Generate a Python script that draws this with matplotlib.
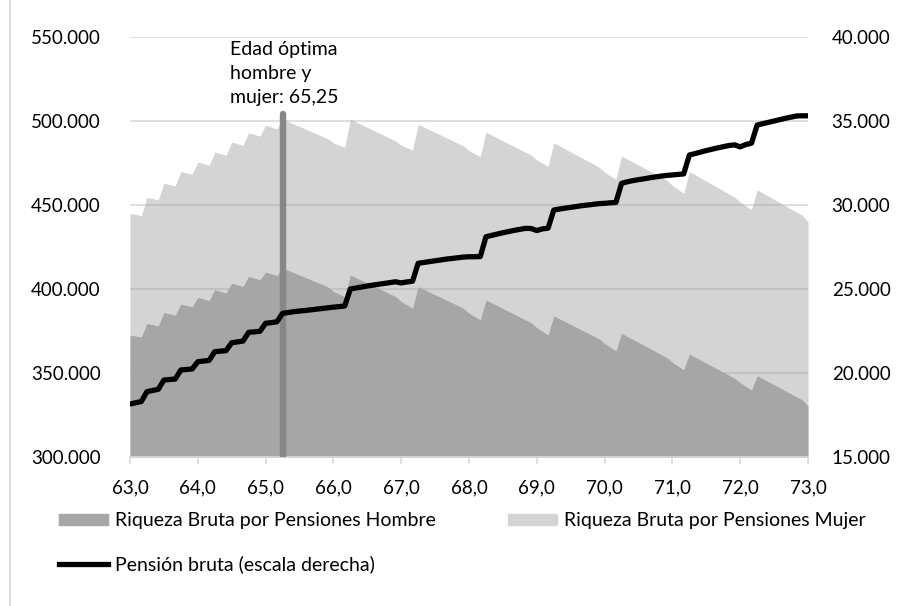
import matplotlib
matplotlib.use("Agg")
import matplotlib.pyplot as plt
import numpy as np
from matplotlib.patches import Patch
from matplotlib.lines import Line2D
from matplotlib.ticker import FuncFormatter

plt.rcParams['font.family'] = ['Lato', 'DejaVu Sans']

# edad de jubilación, mensual de 63 a 73 años
edades = np.linspace(63, 73, 121)

riqueza_mujer = [
    445000, 444400, 443600, 454500, 453800, 452900, 463000, 462200, 461300,
    470000, 469200, 468300, 475500, 474600, 473600, 481500, 480600, 479600,
    487500, 486500, 485500, 493000, 492000, 491000, 497500, 496400, 495300,
    501000, 499600, 498200, 496700, 495300, 493800, 492400, 490900, 489500, 487000, 485600, 484400,
    501000, 499400, 497800, 496200, 494600, 493000, 491400, 489800, 488200, 485600, 484100, 482700,
    498000, 496400, 494800, 493200, 491600, 490000, 488400, 486800, 485200, 482400, 480600, 478800,
    493300, 491600, 489900, 488200, 486500, 484800, 483100, 481400, 479700, 476800, 474900, 473000,
    487000, 485200, 483400, 481600, 479800, 478000, 476200, 474400, 472600, 469600, 467400, 465300,
    479200, 477400, 475600, 473800, 472000, 470200, 468400, 466600, 464800, 461600, 459300, 457000,
    469900, 468000, 466100, 464200, 462300, 460400, 458500, 456600, 454700, 451600, 449500, 447400,
    459000, 457100, 455200, 453300, 451400, 449500, 447600, 445700, 443800, 439800,
]

riqueza_hombre = [
    372500, 372000, 371400, 379500, 378800, 378000, 386000, 385200, 384400,
    391000, 390200, 389400, 395000, 394100, 393200, 399500, 398600, 397600,
    403500, 402500, 401500, 407500, 406500, 405500, 410000, 409000, 408000,
    412500, 411100, 409700, 408300, 406900, 405500, 404100, 402700, 401300, 398600, 397000, 395400,
    408300, 406700, 405100, 403500, 401900, 400300, 398700, 397100, 395500, 392600, 390600, 388600,
    401400, 399800, 398200, 396600, 395000, 393400, 391800, 390200, 388600, 385600, 383600, 381600,
    393500, 391800, 390100, 388400, 386700, 385000, 383300, 381600, 379900, 377000, 374800, 372600,
    384000, 382300, 380600, 378900, 377200, 375500, 373800, 372100, 370400, 367600, 365400, 363200,
    373600, 371800, 370000, 368200, 366400, 364600, 362800, 361000, 359200, 356400, 354100, 351800,
    361300, 359500, 357700, 355900, 354100, 352300, 350500, 348700, 346900, 344200, 342000, 339900,
    348400, 346600, 344800, 343000, 341200, 339400, 337600, 335800, 334000, 330400,
]

pension_bruta = [
    18150, 18230, 18300, 18890, 18960, 19030, 19580, 19610, 19640,
    20180, 20210, 20240, 20670, 20710, 20750, 21270, 21300, 21330,
    21800, 21850, 21900, 22420, 22450, 22480, 22960, 23000, 23050,
    23550, 23600, 23650, 23690, 23720, 23760, 23800, 23840, 23880, 23920, 23950, 23990,
    25000, 25060, 25120, 25180, 25230, 25280, 25330, 25380, 25430, 25360, 25420, 25460,
    26530, 26580, 26630, 26680, 26730, 26780, 26820, 26860, 26900, 26920, 26920, 26930,
    28110, 28190, 28270, 28350, 28420, 28490, 28550, 28610, 28600, 28480, 28580, 28620,
    29700, 29760, 29810, 29860, 29910, 29960, 30000, 30040, 30080, 30100, 30130, 30150,
    31290, 31380, 31450, 31510, 31560, 31620, 31670, 31720, 31760, 31790, 31820, 31850,
    32975, 33060, 33150, 33240, 33320, 33400, 33470, 33540, 33580, 33460, 33600, 33680,
    34760, 34840, 34920, 35000, 35080, 35160, 35230, 35300, 35310, 35310,
]

edad_optima = 65.25
riqueza_optima = 504000

miles = FuncFormatter(lambda v, p: f"{v:,.0f}".replace(",", "."))
decimal = FuncFormatter(lambda v, p: f"{v:.1f}".replace(".", ","))

fig = plt.figure(figsize=(9.03, 6.06), dpi=100)
ax = fig.add_axes([130 / 903, 1 - 457 / 606, 678 / 903, 420 / 606])

c_hombre = '#a6a6a6'
c_mujer = '#d4d4d4'

ax.fill_between(edades, 300000, riqueza_mujer, color='#a0a0a0', alpha=0.45, lw=0, zorder=1)
ax.fill_between(edades, 300000, riqueza_hombre, color=c_hombre, lw=0, zorder=2)
ax.plot([edad_optima, edad_optima], [300000, riqueza_optima], color='#878787', lw=4.6,
        solid_capstyle='round', zorder=3)

ax.set_xlim(63, 73)
ax.set_ylim(300000, 550000)
ax.set_yticks(np.arange(300000, 550001, 50000))
ax.set_xticks(np.arange(63, 74, 1))
ax.yaxis.set_major_formatter(miles)
ax.xaxis.set_major_formatter(decimal)
ax.grid(axis='y', color='#d9d9d9', lw=1.2, zorder=0)
ax.set_axisbelow(True)
for s in ['top', 'left', 'right']:
    ax.spines[s].set_visible(False)
ax.spines['bottom'].set_color('#d9d9d9')
ax.spines['bottom'].set_linewidth(1.2)
ax.tick_params(axis='y', length=0, pad=21, labelsize=13.5)
ax.tick_params(axis='x', length=5, color='#d9d9d9', width=1.2, pad=11, labelsize=13.5)

ax2 = ax.twinx()
ax2.plot(edades, pension_bruta, color='black', lw=3.8, solid_capstyle='round',
         solid_joinstyle='round', zorder=4)
ax2.set_ylim(15000, 40000)
ax2.set_yticks(np.arange(15000, 40001, 5000))
ax2.yaxis.set_major_formatter(miles)
for s in ax2.spines.values():
    s.set_visible(False)
ax2.tick_params(axis='y', length=0, pad=17, labelsize=13.5)

fig.text(230 / 903, 1 - 41 / 606, "Edad óptima\nhombre y\nmujer: 65,25", ha='left', va='top',
         fontsize=14, linespacing=1.5)

handles = [Patch(color=c_hombre), Line2D([], [], color='black', lw=3.8), Patch(color=c_mujer)]
labels = ["Riqueza Bruta por Pensiones Hombre", "Pensión bruta (escala derecha)",
          "Riqueza Bruta por Pensiones Mujer"]
fig.legend(handles, labels, ncol=2, loc='upper left', bbox_to_anchor=(59 / 903, 1 - 512 / 606),
           frameon=False, fontsize=14, handlelength=2.52, handleheight=0.5, handletextpad=0.36,
           columnspacing=3.7, labelspacing=1.33, borderpad=0, borderaxespad=0)

fig.add_artist(Line2D([10 / 903, 10 / 903], [0, 1], color='#d9d9d9', lw=1.2))

fig.savefig("out.png", dpi=100)
